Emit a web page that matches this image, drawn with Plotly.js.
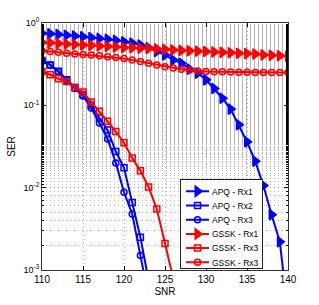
<!DOCTYPE html>
<html><head><meta charset="utf-8">
<script src="https://cdn.plot.ly/plotly-3.0.1.min.js"></script>
<style>html,body{margin:0;padding:0;background:#fff;}#chart{width:319px;height:305px;}</style>
</head><body><div id="chart"></div>
<script>
const snrFull = [110,111,112,113,114,115,116,117,118,119,120,121,122,123,124,125,126,127,128,129,130,131,132,133,134,135,136,137,138,139,140];
const apqRx1 = [0.75,0.74,0.725,0.71,0.695,0.68,0.665,0.65,0.635,0.615,0.59,0.57,0.54,0.50,0.45,0.41,0.356,0.325,0.275,0.245,0.204,0.16,0.122,0.09,0.058,0.036,0.021,0.0106,0.0047,0.0022,0.0003];
const snrApq2 = [110,111,112,113,114,115,116,117,118,119,120,121,122,123];
const apqRx2 = [0.35,0.31,0.26,0.205,0.165,0.135,0.10,0.07,0.05,0.0275,0.0174,0.0066,0.0025,0.00075];
const apqRx3 = [0.35,0.31,0.255,0.2,0.16,0.13,0.093,0.061,0.039,0.020,0.0088,0.0048,0.0015,0.00047];
const gsskRx1 = [0.58,0.575,0.565,0.555,0.55,0.54,0.535,0.525,0.52,0.51,0.505,0.50,0.495,0.49,0.485,0.48,0.47,0.465,0.46,0.455,0.45,0.445,0.44,0.435,0.43,0.425,0.42,0.41,0.405,0.40,0.395];
const snrGssk2 = [110,111,112,113,114,115,116,117,118,119,120,121,122,123,124,125,126,127];
const gsskRx2 = [0.257,0.235,0.21,0.195,0.165,0.145,0.11,0.085,0.064,0.048,0.035,0.023,0.016,0.0102,0.0055,0.0021,0.00085,0.0003];
const gsskRx3 = [0.46,0.45,0.44,0.43,0.42,0.415,0.41,0.40,0.39,0.38,0.37,0.355,0.34,0.325,0.31,0.295,0.285,0.275,0.268,0.262,0.258,0.256,0.255,0.254,0.253,0.252,0.251,0.25,0.25,0.25,0.25];
const names = ['APQ - Rx1','APQ - Rx2','APQ - Rx3','GSSK - Rx1','GSSK - Rx3','GSSK - Rx3'];
const yTickVals = [0.001,0.01,0.1,1];
const yTickText = ['10<sup>-3</sup>','10<sup>-2</sup>','10<sup>-1</sup>','10<sup>0</sup>'];
const xTickVals = [110,115,120,125,130,135,140];

const BLUE='#0000ff', RED='#ff0000';
function tr(x,y,name,color,sym){
  return {x:x,y:y,name:name,type:'scatter',mode:'lines+markers',cliponaxis:true,
    line:{color:color,width:2},
    marker:{symbol:sym,size:sym.indexOf('triangle')===0?9:6,color:color,line:{color:color,width:1.5}}};
}
const data=[
  tr(snrFull,apqRx1,names[0],BLUE,'triangle-right'),
  tr(snrApq2,apqRx2,names[1],BLUE,'square-open'),
  tr(snrApq2,apqRx3,names[2],BLUE,'circle-open'),
  tr(snrFull,gsskRx1,names[3],RED,'triangle-right'),
  tr(snrGssk2,gsskRx2,names[4],RED,'square-open'),
  tr(snrFull,gsskRx3,names[5],RED,'circle-open')
];
const GRID='#b4b4b4', DASH='1px,3px';
const layout={
  width:319,height:305,
  margin:{l:42,r:31,t:23,b:35},
  paper_bgcolor:'#fff',plot_bgcolor:'#fff',
  font:{family:'Liberation Sans, Arial, sans-serif',size:10,color:'#000'},
  showlegend:true,
  legend:{x:0.561,y:0.0,xanchor:'left',yanchor:'bottom',bgcolor:'#fff',bordercolor:'#222',borderwidth:1,
    font:{size:8.5,family:'Liberation Sans Narrow, Liberation Sans, Arial, sans-serif'},itemwidth:30,tracegroupgap:0},
  xaxis:{range:[110,140],tickvals:xTickVals,ticks:'inside',ticklen:4,tickcolor:'#000',
    showline:true,linecolor:'#333',mirror:'ticks',showgrid:true,gridcolor:GRID,griddash:DASH,gridwidth:1,
    zeroline:false,title:{text:'SNR',font:{size:10},standoff:3},tickfont:{size:10}},
  yaxis:{type:'log',range:[-3,0],tickvals:yTickVals,ticktext:yTickText,ticks:'inside',ticklen:4,tickcolor:'#000',
    showline:true,linecolor:'#333',mirror:'ticks',showgrid:true,gridcolor:GRID,griddash:DASH,gridwidth:1,
    zeroline:false,title:{text:'SER',font:{size:10},standoff:6},tickfont:{size:9},
    minor:{ticks:'inside',ticklen:2,tickcolor:'#000',showgrid:true,gridcolor:GRID,griddash:DASH,gridwidth:1}}
};
const gd=document.getElementById('chart');
let done=false;
function tightenLegend(){
  if(done) return;
  const leg=gd.querySelector('.legend');
  if(!leg) return;
  const items=leg.querySelectorAll('.traces');
  const rowH=14.2, shiftX=-9;
  let first=null, maxR=0;
  items.forEach(function(el,i){
    const m=/translate\(([-\d.]+),\s*([-\d.]+)\)/.exec(el.getAttribute('transform')||'');
    if(m){
      const x=parseFloat(m[1]), y=parseFloat(m[2]);
      if(first===null) first=y-3;
      el.setAttribute('transform','translate('+x+','+(first+i*rowH)+')');
    }
    el.querySelectorAll('g.legendlines path').forEach(function(p){p.setAttribute('d','M5,0h23');});
    el.querySelectorAll('path.scatterpts').forEach(function(p){p.setAttribute('transform','translate(16.5,0)');});
    el.querySelectorAll('text').forEach(function(t){
      t.setAttribute('transform','translate('+shiftX+',0)');
      const w=t.getComputedTextLength?t.getComputedTextLength():t.getBBox().width;
      const x0=parseFloat(t.getAttribute('x'))||40;
      maxR=Math.max(maxR,x0+shiftX+w);
    });
  });
  const bg=leg.querySelector('rect.bg');
  if(bg){
    const oldH=parseFloat(bg.getAttribute('height'));
    const newH=items.length*rowH+4;
    bg.setAttribute('height',newH);
    bg.setAttribute('width',maxR+5);
    const lm=/translate\(([-\d.]+),\s*([-\d.]+)\)/.exec(leg.getAttribute('transform')||'');
    if(lm){leg.setAttribute('transform','translate('+lm[1]+','+(parseFloat(lm[2])+oldH-newH-1)+')');}
  }
  done=true;
}
Plotly.newPlot(gd,data,layout,{displayModeBar:false,staticPlot:true}).then(function(){
  try{tightenLegend();}catch(e){}
});
</script></body></html>
